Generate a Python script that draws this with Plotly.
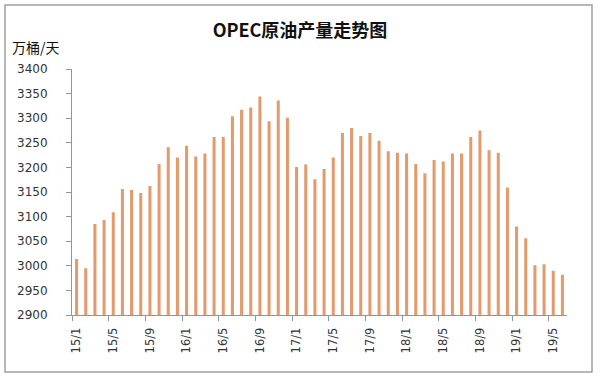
import plotly.graph_objects as go

months = [f"{y}/{m}" for y in range(15, 20) for m in range(1, 13)][:54]
production = [3014, 2995, 3085, 3093, 3109, 3156, 3154, 3148, 3162, 3207,
              3241, 3220, 3244, 3222, 3228, 3262, 3262, 3304, 3317, 3322,
              3344, 3294, 3336, 3301, 3201, 3206, 3176, 3197, 3220, 3270,
              3280, 3264, 3270, 3254, 3233, 3230, 3228, 3207, 3188, 3215,
              3212, 3228, 3228, 3262, 3275, 3235, 3230, 3159, 3080, 3056,
              3001, 3003, 2990, 2982]
y_ticks = [2900, 2950, 3000, 3050, 3100, 3150, 3200, 3250, 3300, 3350, 3400]
title_text = "OPEC原油产量走势图"
unit_text = "万桶/天"

fig = go.Figure(go.Bar(x=months, y=production, marker_color="#E39A6C",
                       marker_line_width=0))

axis_col = "#8C97A6"
L, R, T, B = 72, 33, 69, 62
pw, ph = 600 - L - R, 377 - T - B

fig.update_layout(
    width=600, height=377,
    margin=dict(l=L, r=R, t=T, b=B),
    paper_bgcolor="white", plot_bgcolor="white",
    bargap=0.67, showlegend=False,
    font=dict(family="DejaVu Sans", size=12, color="#333333"),
    title=dict(text=f"<b>{title_text}</b>", x=0.5, xanchor="center",
               y=1 - 31 / 377, yanchor="middle",
               font=dict(family="Noto Sans CJK SC", size=18, color="#111111")),
)
fig.update_xaxes(
    type="category", tickmode="linear", dtick=4, tick0=0,
    tickson="boundaries", ticks="outside", ticklen=5, tickcolor=axis_col,
    showline=True, linecolor=axis_col, linewidth=1, showgrid=False,
    tickangle=-90, ticklabelstandoff=7,
    tickfont=dict(family="DejaVu Sans", size=11.5, color="#333333"),
    range=[-0.5, 53.5], automargin=False,
)
fig.update_yaxes(
    range=[2900, 3400], tickvals=y_ticks, ticks="outside", ticklen=5,
    tickcolor=axis_col, showline=True, linecolor=axis_col, linewidth=1,
    showgrid=False, zeroline=False, ticklabelstandoff=16, automargin=False,
    tickfont=dict(family="DejaVu Sans", size=12, color="#333333"),
)
fig.add_annotation(text=unit_text, xref="paper", yref="paper",
                   x=(10 - L) / pw, y=(377 - B - 47) / ph,
                   xanchor="left", yanchor="middle", showarrow=False,
                   font=dict(family="Noto Sans CJK SC", size=14, color="#111111"))
fig.add_shape(type="rect", xref="paper", yref="paper",
              x0=(5 - L) / pw, x1=(592 - L) / pw,
              y0=(377 - B - 372) / ph, y1=(377 - B - 5) / ph,
              line=dict(color="#A0A0A0", width=1.5), fillcolor="rgba(0,0,0,0)")

fig.write_html("out.html", config={"displayModeBar": False},
               post_script="document.body.style.margin='0';document.body.style.overflow='hidden';")
